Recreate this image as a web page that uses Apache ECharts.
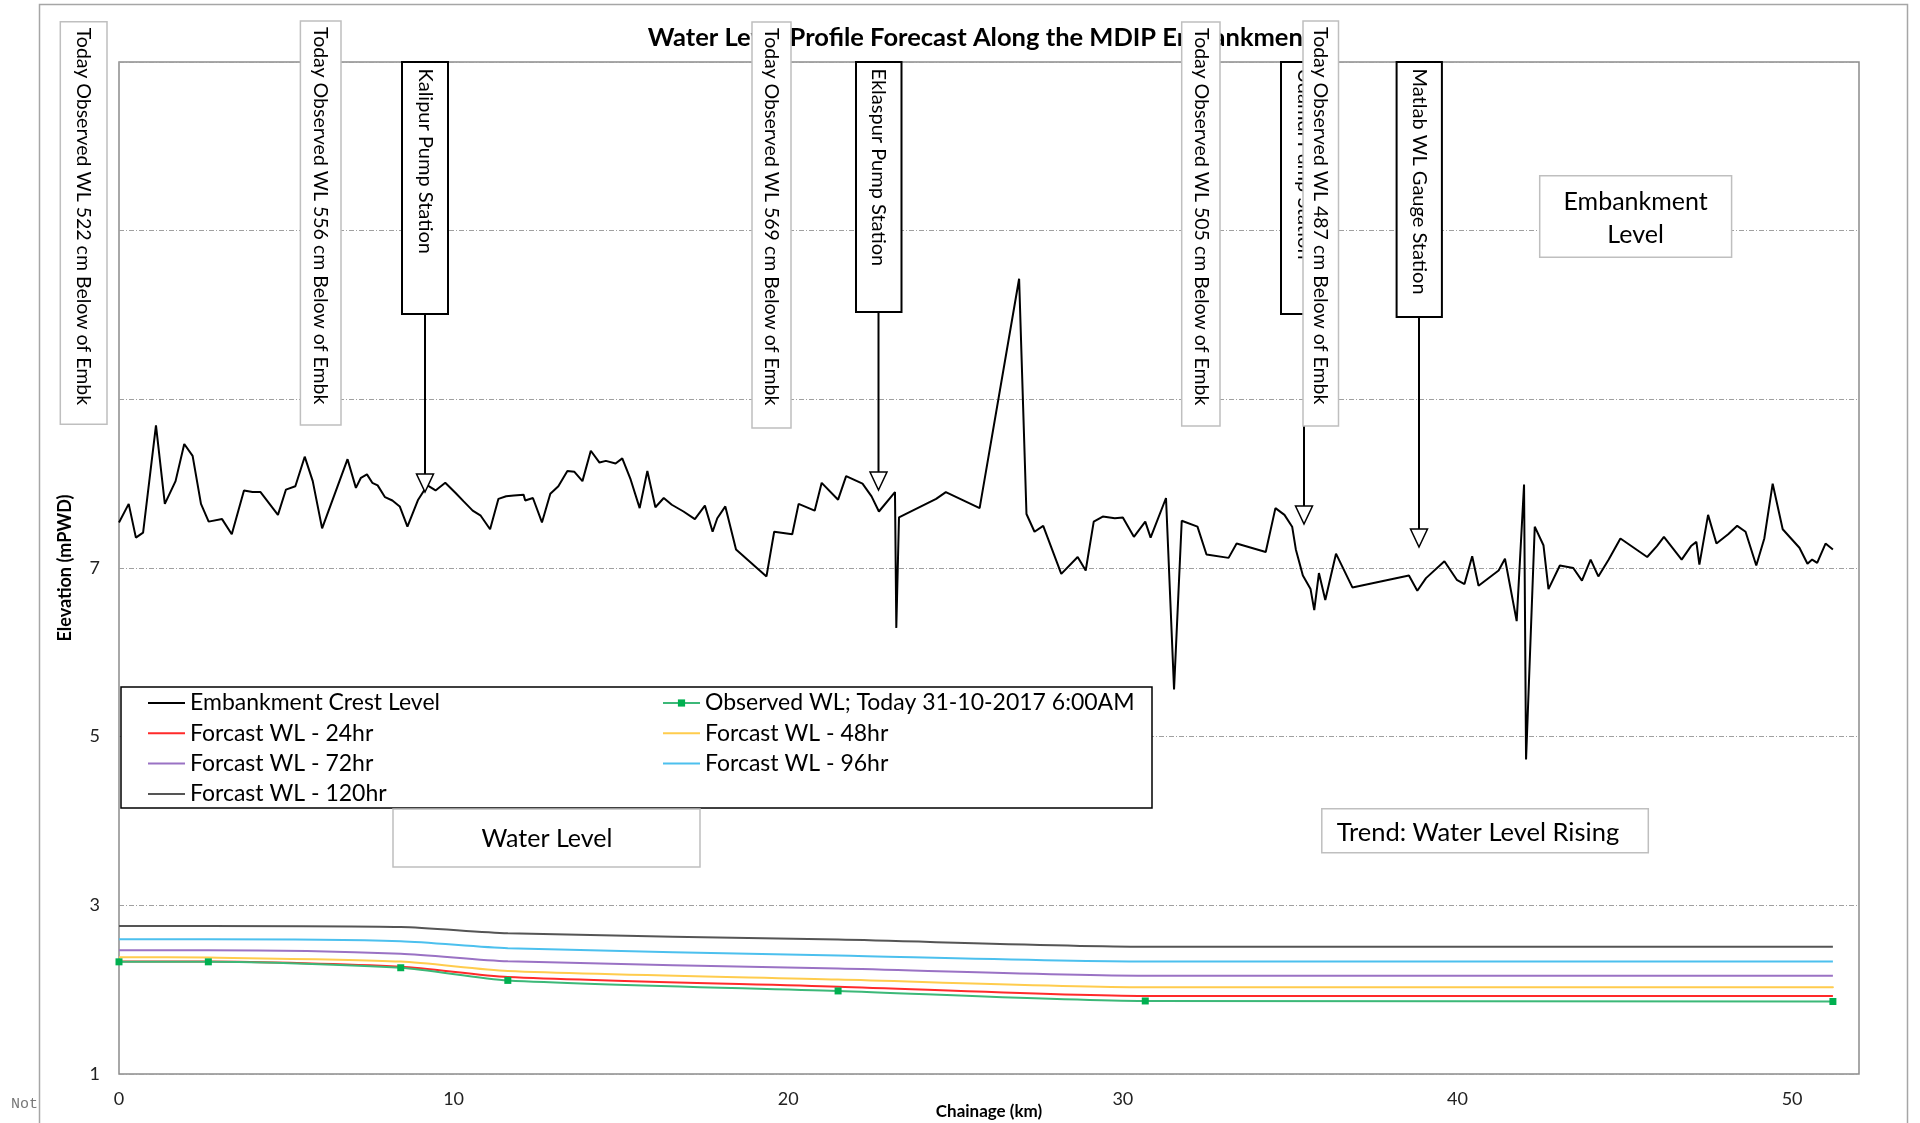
<!DOCTYPE html>
<html>
<head>
<meta charset="utf-8">
<script src="https://cdn.jsdelivr.net/npm/echarts@6/dist/echarts.min.js"></script>
<style>html,body{margin:0;padding:0;background:#fff}#c{width:1920px;height:1123px}</style>
</head>
<body>
<div id="c"></div>
<script>
// ---------- DATA ----------
const crestKm = [0,0.29,0.505,0.72,1.105,1.37,1.69,1.95,2.2,2.45,
  2.68,3.08,3.37,3.735,3.99,4.23,4.75,4.99,5.27,5.55,
  5.79,6.07,6.83,7.08,7.23,7.41,7.57,7.73,7.95,8.17,
  8.39,8.62,8.94,9.15,9.22,9.46,9.75,10.06,10.3,10.57,
  10.81,11.09,11.34,11.57,11.8,12.09,12.14,12.37,12.64,12.89,
  13.13,13.4,13.61,13.85,14.1,14.36,14.55,14.84,15.04,15.29,
  15.56,15.79,16.03,16.28,16.52,16.87,17.21,17.51,17.74,17.88,
  18.12,18.44,19.35,19.58,20.12,20.31,20.79,21.0,21.49,21.73,
  22.22,22.49,22.71,23.19,23.23,23.31,24.42,24.71,25.72,26.9,
  27.12,27.36,27.62,28.16,28.65,28.89,29.13,29.4,29.76,30.0,
  30.33,30.67,30.83,31.29,31.53,31.76,32.23,32.5,33.16,33.4,
  34.27,34.56,34.83,35.06,35.17,35.38,35.61,35.72,35.86,36.05,
  36.37,36.86,38.55,38.8,39.06,39.61,39.98,40.21,40.44,40.63,
  41.23,41.42,41.77,41.99,42.05,42.31,42.57,42.72,43.06,43.46,
  43.72,43.98,44.21,44.52,44.87,45.67,45.96,46.17,46.7,46.98,
  47.14,47.23,47.49,47.74,48.09,48.36,48.61,48.93,49.17,49.42,
  49.72,50.22,50.46,50.6,50.75,51.0,51.22];
const crestLevel = [7.54,7.76,7.36,7.42,8.69,7.76,8.03,8.47,8.33,7.76,
  7.55,7.58,7.40,7.92,7.90,7.90,7.63,7.93,7.97,8.32,
  8.03,7.47,8.29,7.95,8.07,8.11,8.01,7.98,7.84,7.80,
  7.73,7.49,7.81,7.94,7.98,7.92,8.01,7.89,7.79,7.68,
  7.62,7.46,7.82,7.85,7.86,7.87,7.80,7.83,7.54,7.88,
  7.97,8.15,8.14,8.03,8.39,8.25,8.27,8.24,8.30,8.05,
  7.71,8.15,7.72,7.83,7.75,7.67,7.58,7.74,7.43,7.59,
  7.73,7.22,6.90,7.43,7.40,7.76,7.68,8.01,7.81,8.09,
  8.00,7.85,7.67,7.90,6.29,7.60,7.82,7.90,7.71,10.43,
  7.64,7.43,7.50,6.93,7.13,6.97,7.55,7.61,7.59,7.60,
  7.37,7.55,7.36,7.83,5.56,7.56,7.49,7.16,7.12,7.29,
  7.19,7.71,7.63,7.49,7.22,6.91,6.75,6.50,6.94,6.62,
  7.17,6.77,6.91,6.73,6.88,7.08,6.86,6.81,7.14,6.79,
  6.97,7.11,6.37,7.99,4.73,7.49,7.27,6.75,7.03,7.00,
  6.85,7.10,6.90,7.10,7.35,7.13,7.26,7.37,7.10,7.26,
  7.31,7.04,7.63,7.29,7.40,7.50,7.43,7.03,7.35,8.00,
  7.46,7.24,7.05,7.10,7.06,7.29,7.22];

const wlKm       = [0, 2.67, 8.42, 11.62, 21.49, 30.67, 51.22];
const observedWL = [2.33, 2.33, 2.26, 2.11, 1.985, 1.866, 1.86];
const wl24       = [2.333, 2.333, 2.273, 2.15, 2.036, 1.925, 1.925];
const wl48       = [2.384, 2.38, 2.333, 2.222, 2.12, 2.028, 2.028];
const wl72       = [2.467, 2.467, 2.427, 2.336, 2.25, 2.166, 2.166];
const wl96       = [2.597, 2.597, 2.574, 2.491, 2.404, 2.333, 2.333];
const wl120      = [2.756, 2.756, 2.744, 2.669, 2.594, 2.51, 2.51];

const yTickLabels = [1, 3, 5, 7, 9, 11, 13];
const xTickLabels = [0, 10, 20, 30, 40, 50];

const seriesNames = ['Embankment Crest Level', 'Observed WL; Today 31-10-2017 6:00AM',
  'Forcast WL - 24hr', 'Forcast WL - 48hr', 'Forcast WL - 72hr', 'Forcast WL - 96hr', 'Forcast WL - 120hr'];

const observedNotes = ['Today Observed WL 522 cm Below of Embk', 'Today Observed WL 556 cm Below of Embk',
  'Today Observed WL 569 cm Below of Embk', 'Today Observed WL 505 cm Below of Embk', 'Today Observed WL 487 cm Below of Embk'];
const stationNames = ['Kalipur Pump Station', 'Eklaspur Pump Station', 'Udamdi Pump Station', 'Matlab WL Gauge Station'];

// ---------- CHART ----------
const FONT = 'Lato, "Open Sans", sans-serif';
const pairs = (xs, ys) => xs.map((x, i) => [x, ys[i]]);

function wlSeries(name, ys, color, extra) {
  return Object.assign({
    name, type: 'line', data: pairs(wlKm, ys), symbol: 'none', smooth: 0.25,
    lineStyle: { color, width: 2 }, itemStyle: { color }, z: 2
  }, extra || {});
}

function vbox(x, y, w, h, text, stroke, lw, pad, z, fs) {
  return [
    { type: 'rect', z, shape: { x, y, width: w, height: h },
      style: { fill: '#fff', stroke, lineWidth: lw } },
    { type: 'text', z: z + 1, x: x + w / 2, y: y + pad, rotation: -Math.PI / 2,
      style: { text, fill: '#000', font: (fs || 20) + 'px ' + FONT, align: 'left', verticalAlign: 'middle' } }
  ];
}
function arrow(x, y0, y1, z) {
  return [
    { type: 'line', z, shape: { x1: x, y1: y0, x2: x, y2: y1 }, style: { stroke: '#000', lineWidth: 2 } },
    { type: 'polygon', z, shape: { points: [[x - 8.5, y1], [x + 8.5, y1], [x, y1 + 18]] },
      style: { fill: '#fff', stroke: '#000', lineWidth: 1.5 } }
  ];
}

const graphics = [].concat(
  [{ type: 'rect', z: 0, shape: { x: 39.5, y: 4.5, width: 1868, height: 1200 },
     style: { fill: 'none', stroke: '#a6a6a6', lineWidth: 1.5 } }],
  // legend frame
  [{ type: 'rect', z: 3, shape: { x: 121, y: 687, width: 1031, height: 121 },
     style: { fill: '#fff', stroke: '#000', lineWidth: 1.5 } }],
  arrow(425, 314, 474, 99),
  arrow(878.5, 312, 472, 99),
  arrow(1304, 314, 506, 99),
  arrow(1419, 317, 529, 99),
  vbox(402, 62, 46, 252, stationNames[0], '#000', 2, 6.5, 100, 20),
  vbox(856, 62, 45.5, 250, stationNames[1], '#000', 2, 6.5, 100, 20),
  vbox(1281, 62, 46, 252, stationNames[2], '#000', 2, 6.5, 100, 20),
  vbox(1396.6, 62, 45.3, 255, stationNames[3], '#000', 2, 6.5, 100, 20),
  vbox(60.3, 21.7, 46.7, 402.6, observedNotes[0], '#bfbfbf', 1.5, 6, 102, 19.5),
  vbox(300.4, 21, 40.6, 404, observedNotes[1], '#bfbfbf', 1.5, 6, 102, 19.5),
  vbox(752, 22, 39, 406, observedNotes[2], '#bfbfbf', 1.5, 6, 102, 19.5),
  vbox(1181.7, 22, 38.3, 404, observedNotes[3], '#bfbfbf', 1.5, 6, 102, 19.5),
  vbox(1303, 21, 35.5, 405, observedNotes[4], '#bfbfbf', 1.5, 6, 104, 19.5),
  [
    { type: 'rect', z: 100, shape: { x: 1539.7, y: 175.7, width: 191.9, height: 81.6 },
      style: { fill: '#fff', stroke: '#bfbfbf', lineWidth: 1.5 } },
    { type: 'text', z: 101, x: 1635.6, y: 218, style: { text: 'Embankment\nLevel', fill: '#000',
      font: '25px ' + FONT, align: 'center', verticalAlign: 'middle', lineHeight: 33 } },
    { type: 'rect', z: 100, shape: { x: 393, y: 809, width: 307, height: 58 },
      style: { fill: '#fff', stroke: '#bfbfbf', lineWidth: 1.5 } },
    { type: 'text', z: 101, x: 547, y: 839, style: { text: 'Water Level', fill: '#000',
      font: '25px ' + FONT, align: 'center', verticalAlign: 'middle' } },
    { type: 'rect', z: 100, shape: { x: 1321.8, y: 808.7, width: 326.5, height: 44 },
      style: { fill: '#fff', stroke: '#bfbfbf', lineWidth: 1.5 } },
    { type: 'text', z: 101, x: 1336.7, y: 833, style: { text: 'Trend: Water Level Rising', fill: '#000',
      font: '25.5px ' + FONT, align: 'left', verticalAlign: 'middle' } },
    { type: 'text', z: 101, x: 11, y: 1104, style: { text: 'Not', fill: '#777',
      font: '15px "Liberation Mono", "DejaVu Sans Mono", monospace', align: 'left', verticalAlign: 'middle' } }
  ]
);

const legendText = { fontFamily: FONT, fontSize: 23, color: '#000', lineHeight: 24 };
const lineOnly = name => ({ name, itemStyle: { opacity: 0 } });

const option = {
  animation: false,
  backgroundColor: '#fff',
  title: {
    text: 'Water Level Profile Forecast Along the MDIP Embankment',
    left: 975, top: 20, textAlign: 'center',
    textStyle: { fontFamily: FONT, fontWeight: 'bold', fontSize: 25.5, color: '#000' }
  },
  legend: [
    { data: [lineOnly(seriesNames[0]), lineOnly(seriesNames[2]), lineOnly(seriesNames[4]), lineOnly(seriesNames[6])],
      orient: 'vertical', left: 147, top: 691, padding: 0, itemWidth: 37, itemHeight: 9, itemGap: 6.3,
      textStyle: legendText, selectedMode: false, z: 5 },
    { data: [seriesNames[1], lineOnly(seriesNames[3]), lineOnly(seriesNames[5])],
      orient: 'vertical', left: 662, top: 691, padding: 0, itemWidth: 37, itemHeight: 9, itemGap: 6.3,
      textStyle: legendText, selectedMode: false, z: 5 }
  ],
  grid: { left: 119, right: 61, top: 62, bottom: 49, show: true, borderColor: '#8c8c8c', borderWidth: 1.5,
          containLabel: false, outerBoundsMode: 'none' },
  xAxis: {
    type: 'value', min: 0, max: 52, interval: 10,
    name: 'Chainage (km)', nameLocation: 'middle', nameGap: 29, nameMoveOverlap: false,
    nameTextStyle: { fontFamily: FONT, fontWeight: 'bold', fontSize: 17, color: '#000' },
    axisLine: { show: false }, axisTick: { show: false }, splitLine: { show: false },
    axisLabel: { fontFamily: FONT, fontSize: 18, color: '#222', margin: 16,
      formatter: v => (xTickLabels.indexOf(v) >= 0 ? String(v) : '') }
  },
  yAxis: {
    type: 'value', min: 1, max: 13, interval: 2,
    name: 'Elevation (mPWD)', nameLocation: 'middle', nameGap: 45, nameRotate: 90, nameMoveOverlap: false,
    nameTextStyle: { fontFamily: FONT, fontWeight: 'bold', fontSize: 18, color: '#000' },
    axisLine: { show: false }, axisTick: { show: false },
    splitLine: { show: true, lineStyle: { color: '#a0a0a0', width: 1, type: [5, 2, 1, 2] } },
    axisLabel: { fontFamily: FONT, fontSize: 18, color: '#222', margin: 19,
      formatter: v => (yTickLabels.indexOf(v) >= 0 ? String(v) : '') }
  },
  graphic: { elements: graphics },
  series: [
    { name: seriesNames[0], type: 'line', data: pairs(crestKm, crestLevel), symbol: 'none',
      lineStyle: { color: '#000', width: 2 }, itemStyle: { color: '#000' }, z: 3 },
    wlSeries(seriesNames[1], observedWL, '#3cb878', { symbol: 'rect', symbolSize: 7, showSymbol: true,
      itemStyle: { color: '#00b050' }, lineStyle: { color: '#3cb878', width: 2 }, z: 4 }),
    wlSeries(seriesNames[2], wl24, '#ff2a2a'),
    wlSeries(seriesNames[3], wl48, '#ffcc4d'),
    wlSeries(seriesNames[4], wl72, '#9a72c4'),
    wlSeries(seriesNames[5], wl96, '#4cc0ee'),
    wlSeries(seriesNames[6], wl120, '#555555')
  ]
};

const chart = echarts.init(document.getElementById('c'), null, { renderer: 'canvas' });
chart.setOption(option);
</script>
</body>
</html>
